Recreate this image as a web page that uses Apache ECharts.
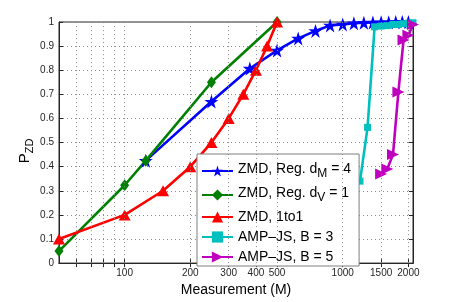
<!DOCTYPE html>
<html>
<head>
<meta charset="utf-8">
<script src="https://cdn.jsdelivr.net/npm/echarts@6/dist/echarts.min.js"></script>
<style>html,body{margin:0;padding:0;background:#fff}#c{width:457px;height:302px}</style>
</head>
<body>
<div id="c"></div>
<script>
// ---- data ----
const xTickValues = [60, 70, 80, 90, 100, 200, 300, 400, 500, 1000, 1500, 2000];
const xLabelValues = [100, 200, 300, 400, 500, 1000, 1500, 2000];
const yTickLabels = ['0','0.1','0.2','0.3','0.4','0.5','0.6','0.7','0.8','0.9','1'];

const seriesNames = ['ZMD, Reg. dM = 4', 'ZMD, Reg. dV = 1', 'ZMD, 1to1', 'AMP\u2013JS, B = 3', 'AMP\u2013JS, B = 5'];

const blueX = [125, 250, 375, 500, 625, 750, 875, 1000, 1125, 1250, 1375, 1500, 1625, 1750, 1875, 2000];
const blueY = [0.425, 0.67, 0.807, 0.882, 0.932, 0.963, 0.986, 0.99, 0.995, 0.997, 0.998, 0.999, 0.999, 1, 1, 1];

const greenX = [50, 100, 125, 250, 500];
const greenY = [0.05, 0.323, 0.425, 0.75, 1.0];

const redX = [50, 100, 150, 200, 250, 300, 350, 400, 450, 500];
const redY = [0.1, 0.2, 0.3, 0.4, 0.5, 0.6, 0.7, 0.8, 0.9, 1.0];

const cyanX = [1200, 1300, 1400, 1500, 1600, 1700, 1800, 1900, 2000, 2100];
const cyanY = [0.34, 0.563, 0.98, 0.983, 0.985, 0.99, 0.99, 0.993, 0.995, 0.997];

const magX = [1500, 1600, 1700, 1800, 1900, 2000, 2100];
const magY = [0.37, 0.39, 0.45, 0.71, 0.925, 0.945, 0.99];

// ---- chart ----
const pair = (xs, ys) => xs.map((x, i) => [x, ys[i]]);
const STAR = 'path://M50,0 L61.2,34.5 L97.6,34.5 L68.2,55.9 L79.4,90.5 L50,69.1 L20.6,90.5 L31.8,55.9 L2.4,34.5 L38.8,34.5 Z';
const FONT = 'Liberation Sans';
const GRID_LINE = {color: '#8c8c8c', type: [1, 3], width: 1};

const legendRich = {
  'ZMD, Reg. dM = 4': '{m|ZMD, Reg. d}{s|M}{m| = 4}',
  'ZMD, Reg. dV = 1': '{m|ZMD, Reg. d}{s|V}{m| = 1}'
};

const chart = echarts.init(document.getElementById('c'), null, {renderer: 'canvas'});

function mkSeries(name, data, color, symbol, size, rotate) {
  return {
    name, type: 'line', data,
    xAxisIndex: 0, yAxisIndex: 0,
    symbol, symbolSize: size, symbolRotate: rotate || 0,
    showAllSymbol: true,
    lineStyle: {color, width: 2.6},
    itemStyle: {color, borderWidth: 0},
    emphasis: {disabled: true},
    animation: false,
    clip: false,
    z: 3
  };
}

const axisLineStyle = {color: '#262626', width: 1};

chart.setOption({
  animation: false,
  grid: {left: 59, right: 44, top: 22, bottom: 34, show: true, borderColor: '#262626', borderWidth: 1, backgroundColor: '#fff'},
  xAxis: [{
    type: 'log', logBase: 10, min: 50, max: 2100,
    position: 'bottom',
    axisLine: {show: true, lineStyle: axisLineStyle},
    axisTick: {show: true, inside: true, length: 4, customValues: xTickValues, lineStyle: axisLineStyle},
    minorTick: {show: false},
    axisLabel: {show: true, customValues: xLabelValues, fontSize: 10, fontFamily: FONT, color: '#262626', margin: 5,
      formatter: (v) => String(Math.round(v))},
    splitLine: {show: false},
    name: 'Measurement (M)', nameLocation: 'middle', nameGap: 16,
    nameTextStyle: {fontSize: 14, fontFamily: FONT, color: '#000'}
  }, {
    type: 'log', logBase: 10, min: 50, max: 2100,
    position: 'top',
    axisLine: {show: true, lineStyle: axisLineStyle},
    axisTick: {show: true, inside: true, length: 4, customValues: xTickValues, lineStyle: axisLineStyle},
    axisLabel: {show: false},
    splitLine: {show: false}
  }],
  yAxis: [{
    type: 'value', min: 0, max: 1, interval: 0.1,
    position: 'left',
    axisLine: {show: true, lineStyle: axisLineStyle},
    axisTick: {show: true, inside: true, length: 4, lineStyle: axisLineStyle},
    axisLabel: {fontSize: 10, fontFamily: FONT, color: '#262626', margin: 5,
      formatter: (v) => yTickLabels[Math.round(v * 10)]},
    splitLine: {show: true, lineStyle: GRID_LINE}
  }, {
    type: 'value', min: 0, max: 1, interval: 0.1,
    position: 'right',
    axisLine: {show: true, lineStyle: axisLineStyle},
    axisTick: {show: true, inside: true, length: 4, lineStyle: axisLineStyle},
    axisLabel: {show: false},
    splitLine: {show: false}
  }],
  legend: {
    orient: 'vertical', left: 197, top: 154,
    width: 159,
    padding: [8, 8, 2, 4],
    itemGap: 6, itemWidth: 31, itemHeight: 14,
    backgroundColor: '#fff', borderColor: '#7f7f7f', borderWidth: 1,
    data: seriesNames,
    formatter: (name) => legendRich[name] || ('{m|' + name + '}'),
    textStyle: {
      fontSize: 14, fontFamily: FONT, color: '#000',
      rich: {
        m: {fontSize: 14, fontFamily: FONT, color: '#000', verticalAlign: 'top'},
        s: {fontSize: 12, fontFamily: FONT, color: '#000', verticalAlign: 'bottom', padding: [6, 0, 0, 0]}
      }
    },
    selectedMode: false
  },
  graphic: [{
    type: 'text', left: 17, top: 'middle',
    rotation: Math.PI / 2,
    style: {
      text: '{p|P}{s|ZD}',
      rich: {
        p: {fontSize: 15, fontFamily: FONT, fill: '#000', verticalAlign: 'top'},
        s: {fontSize: 11, fontFamily: FONT, fill: '#000', verticalAlign: 'bottom', padding: [7, 0, 0, 0]}
      }
    }
  }],
  series: [
    {
      name: 'grid', type: 'line', data: [], z: 1, silent: true,
      markLine: {
        silent: true, symbol: 'none', animation: false,
        label: {show: false},
        lineStyle: GRID_LINE,
        emphasis: {disabled: true},
        data: xTickValues.map(v => ({xAxis: v}))
      }
    },
    mkSeries(seriesNames[0], pair(blueX, blueY), '#0000ff', STAR, 14),
    mkSeries(seriesNames[1], pair(greenX, greenY), '#008000', 'diamond', [9, 12]),
    mkSeries(seriesNames[2], pair(redX, redY), '#ff0000', 'triangle', [12, 11]),
    mkSeries(seriesNames[3], pair(cyanX, cyanY), '#00bfbf', 'rect', 7),
    mkSeries(seriesNames[4], pair(magX, magY), '#bf00bf', 'triangle', [11, 12], -90)
  ]
});
</script>
</body>
</html>
